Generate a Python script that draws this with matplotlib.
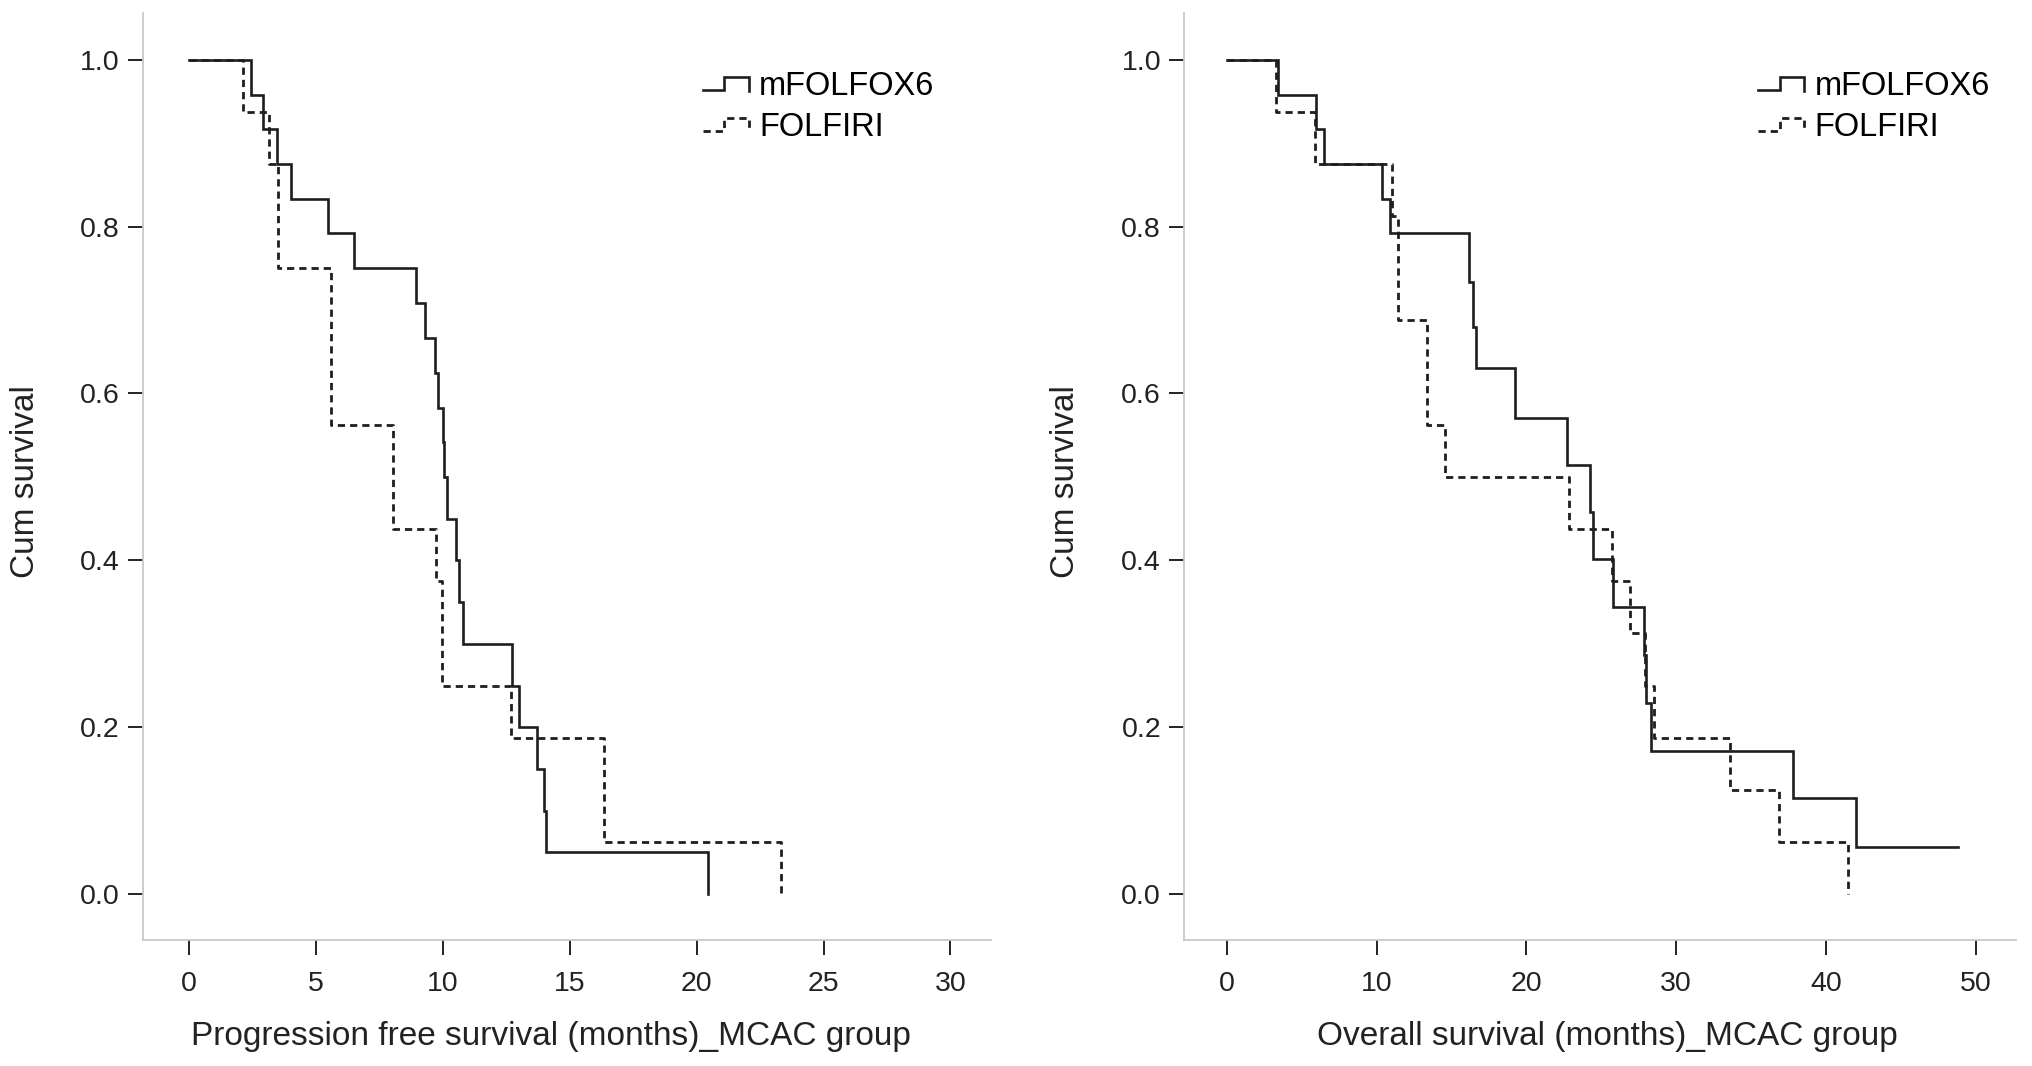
import numpy as np
import matplotlib
matplotlib.use("Agg")
import matplotlib.pyplot as plt
from matplotlib.lines import Line2D
from matplotlib.legend_handler import HandlerLine2D

# ---------------- data (Kaplan-Meier step curves) ----------------
pfs_t_mfolfox = [0, 2.44, 2.90, 3.48, 4.02, 5.47, 6.49, 8.94, 9.28, 9.68, 9.80,
                 10.00, 10.06, 10.15, 10.52, 10.65, 10.81, 12.74, 12.99, 13.73,
                 13.98, 14.05, 20.45]
pfs_s_mfolfox = [1.0, 0.958, 0.917, 0.875, 0.833, 0.792, 0.750, 0.708, 0.667,
                 0.625, 0.583, 0.542, 0.500, 0.450, 0.400, 0.350, 0.300, 0.250,
                 0.200, 0.150, 0.100, 0.050, 0.0]

pfs_t_folfiri = [0, 2.14, 3.15, 3.50, 5.58, 8.05, 9.73, 9.98, 12.69, 16.37, 23.33]
pfs_s_folfiri = [1.0, 0.9375, 0.875, 0.750, 0.5625, 0.4375, 0.375, 0.250,
                 0.1875, 0.0625, 0.0]

os_t_mfolfox = [0, 3.38, 5.94, 6.48, 10.37, 10.88, 16.16, 16.45, 16.63, 19.23,
                22.68, 24.23, 24.47, 25.81, 27.85, 28.00, 28.30, 37.82, 42.00, 48.80]
os_s_mfolfox = [1.0, 0.958, 0.917, 0.875, 0.833, 0.792, 0.734, 0.680, 0.630,
                0.571, 0.514, 0.458, 0.402, 0.344, 0.287, 0.229, 0.172, 0.115,
                0.057, 0.057]

os_t_folfiri = [0, 3.30, 5.90, 11.04, 11.43, 13.33, 14.56, 22.85, 25.70, 26.94,
                27.90, 28.55, 33.58, 36.85, 41.45]
os_s_folfiri = [1.0, 0.9375, 0.875, 0.8125, 0.6875, 0.5625, 0.500, 0.4375,
                0.375, 0.3125, 0.250, 0.1875, 0.125, 0.0625, 0.0]

group_labels = ["mFOLFOX6", "FOLFIRI"]
pfs_xticks = [0, 5, 10, 15, 20, 25, 30]
os_xticks = [0, 10, 20, 30, 40, 50]
yticks = [0.0, 0.2, 0.4, 0.6, 0.8, 1.0]
ylabel = "Cum survival"
pfs_xlabel = "Progression free survival (months)_MCAC group"
os_xlabel = "Overall survival (months)_MCAC group"

# ---------------- style ----------------
plt.rcParams['font.family'] = ['Liberation Sans', 'DejaVu Sans']
LINE_COLOR = '#1e1e1e'
SPINE_COLOR = '#c8c8c8'
LW = 1.9
LW_DASH = 2.0
DASH = (0, (2.6, 1.8))
TICK_FS = 20.5
LABEL_FS = 24
LEG_FS = 23.5


class StepHandler(HandlerLine2D):
    def create_artists(self, legend, orig_handle, xdescent, ydescent,
                       width, height, fontsize, trans):
        xs = np.array([0.0, 0.47, 0.47, 1.0, 1.0]) * width - xdescent
        ys = np.array([0.22, 0.22, 0.80, 0.80, 0.18]) * height - ydescent
        line = Line2D(xs, ys)
        self.update_prop(line, orig_handle, legend)
        line.set_transform(trans)
        return [line]


W, H = 2032, 1066
fig = plt.figure(figsize=(W / 100, H / 100), dpi=100)

ax1 = fig.add_axes([142.6 / W, 1 - 940 / H, (991 - 142.6) / W, (940 - 13) / H])
ax2 = fig.add_axes([1184 / W, 1 - 940 / H, (2016 - 1184) / W, (940 - 13) / H])


def style_axes(ax, xlim, xticks):
    ax.set_xlim(*xlim)
    ax.set_ylim(-0.055, 1.056)
    ax.set_xticks(xticks)
    ax.set_yticks(yticks)
    ax.set_yticklabels([f"{v:.1f}" for v in yticks])
    for s in ['top', 'right']:
        ax.spines[s].set_visible(False)
    for s in ['left', 'bottom']:
        ax.spines[s].set_color(SPINE_COLOR)
        ax.spines[s].set_linewidth(1.3)
    ax.tick_params(axis='both', direction='out', length=10.5, width=1.4,
                   color='#222222', labelsize=TICK_FS, labelcolor='#222222')
    ax.tick_params(axis='x', pad=12)
    ax.tick_params(axis='y', pad=6)


def draw_panel(ax, t1, s1, t2, s2):
    h1, = ax.step(t1, s1, where='post', color=LINE_COLOR, lw=LW,
                  solid_joinstyle='miter')
    h2, = ax.step(t2, s2, where='post', color=LINE_COLOR, lw=LW_DASH,
                  linestyle=DASH)
    return h1, h2


h1, h2 = draw_panel(ax1, pfs_t_mfolfox, pfs_s_mfolfox, pfs_t_folfiri, pfs_s_folfiri)
style_axes(ax1, (-1.83, 31.6), pfs_xticks)
ax1.legend([h1, h2], group_labels, loc='upper left', bbox_to_anchor=(0.66, 0.937),
           frameon=False, fontsize=LEG_FS, handlelength=1.42, handletextpad=0.32,
           labelspacing=0.30, borderpad=0, borderaxespad=0,
           handler_map={Line2D: StepHandler()})

g1, g2 = draw_panel(ax2, os_t_mfolfox, os_s_mfolfox, os_t_folfiri, os_s_folfiri)
style_axes(ax2, (-2.87, 52.7), os_xticks)
ax2.legend([g1, g2], group_labels, loc='upper left', bbox_to_anchor=(0.69, 0.937),
           frameon=False, fontsize=LEG_FS, handlelength=1.42, handletextpad=0.32,
           labelspacing=0.30, borderpad=0, borderaxespad=0,
           handler_map={Line2D: StepHandler()})

# axis labels
fig.text(26 / W, 1 - 482 / H, ylabel, rotation=90, ha='center', va='center',
         fontsize=LABEL_FS, color='#222222')
fig.text(1065 / W, 1 - 482 / H, ylabel, rotation=90, ha='center', va='center',
         fontsize=LABEL_FS, color='#222222')
fig.text(551 / W, 1 - 1037 / H, pfs_xlabel, ha='center', va='center',
         fontsize=LABEL_FS, color='#222222')
fig.text(1607 / W, 1 - 1037 / H, os_xlabel, ha='center', va='center',
         fontsize=LABEL_FS, color='#222222')

fig.savefig("out.png", dpi=100, facecolor='white')
